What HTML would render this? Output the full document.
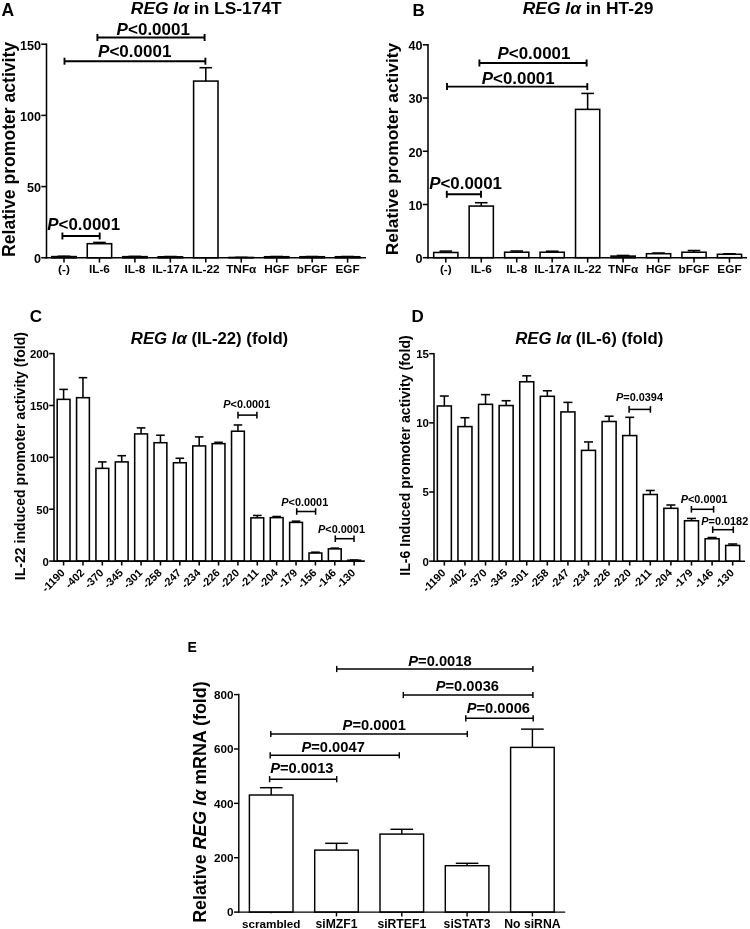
<!DOCTYPE html>
<html><head><meta charset="utf-8"><title>Figure</title>
<style>
html,body{margin:0;padding:0;background:#fff;}
body{width:750px;height:929px;overflow:hidden;}
svg{display:block;will-change:transform;}
svg text{font-family:"Liberation Sans",sans-serif;font-weight:bold;fill:#000;}
svg line,svg rect{stroke:#000;}
</style></head><body>
<svg width="750" height="929" viewBox="0 0 750 929">
<rect x="0" y="0" width="750" height="929" fill="#fff" stroke="none" style="stroke:none"/>
<line x1="64.00" y1="256.23" x2="64.00" y2="256.59" stroke-width="1.55"/>
<line x1="57.70" y1="256.23" x2="70.30" y2="256.23" stroke-width="1.55"/>
<rect x="51.80" y="256.59" width="24.40" height="1.21" fill="#fff" stroke-width="1.55"/>
<line x1="99.45" y1="242.42" x2="99.45" y2="243.70" stroke-width="1.55"/>
<line x1="93.15" y1="242.42" x2="105.75" y2="242.42" stroke-width="1.55"/>
<rect x="87.25" y="243.70" width="24.40" height="14.10" fill="#fff" stroke-width="1.55"/>
<line x1="134.90" y1="256.38" x2="134.90" y2="256.66" stroke-width="1.55"/>
<line x1="128.60" y1="256.38" x2="141.20" y2="256.38" stroke-width="1.55"/>
<rect x="122.70" y="256.66" width="24.40" height="1.14" fill="#fff" stroke-width="1.55"/>
<line x1="170.35" y1="256.52" x2="170.35" y2="256.80" stroke-width="1.55"/>
<line x1="164.05" y1="256.52" x2="176.65" y2="256.52" stroke-width="1.55"/>
<rect x="158.15" y="256.80" width="24.40" height="1.00" fill="#fff" stroke-width="1.55"/>
<line x1="205.80" y1="67.70" x2="205.80" y2="81.08" stroke-width="1.55"/>
<line x1="199.50" y1="67.70" x2="212.10" y2="67.70" stroke-width="1.55"/>
<rect x="193.60" y="81.08" width="24.40" height="176.72" fill="#fff" stroke-width="1.55"/>
<line x1="241.25" y1="257.37" x2="241.25" y2="257.44" stroke-width="1.55"/>
<line x1="234.95" y1="257.37" x2="247.55" y2="257.37" stroke-width="1.55"/>
<rect x="229.05" y="257.44" width="24.40" height="0.36" fill="#fff" stroke-width="1.55"/>
<line x1="276.70" y1="256.52" x2="276.70" y2="256.73" stroke-width="1.55"/>
<line x1="270.40" y1="256.52" x2="283.00" y2="256.52" stroke-width="1.55"/>
<rect x="264.50" y="256.73" width="24.40" height="1.07" fill="#fff" stroke-width="1.55"/>
<line x1="312.15" y1="256.52" x2="312.15" y2="256.73" stroke-width="1.55"/>
<line x1="305.85" y1="256.52" x2="318.45" y2="256.52" stroke-width="1.55"/>
<rect x="299.95" y="256.73" width="24.40" height="1.07" fill="#fff" stroke-width="1.55"/>
<line x1="347.60" y1="256.52" x2="347.60" y2="256.73" stroke-width="1.55"/>
<line x1="341.30" y1="256.52" x2="353.90" y2="256.52" stroke-width="1.55"/>
<rect x="335.40" y="256.73" width="24.40" height="1.07" fill="#fff" stroke-width="1.55"/>
<line x1="46.50" y1="43.52" x2="46.50" y2="258.57" stroke-width="1.55"/>
<line x1="45.73" y1="257.80" x2="366.00" y2="257.80" stroke-width="1.55"/>
<line x1="41.30" y1="257.80" x2="46.50" y2="257.80" stroke-width="1.55"/>
<text x="41.00" y="263.14" text-anchor="end" style="font-size:12.6px;">0</text>
<line x1="41.30" y1="186.60" x2="46.50" y2="186.60" stroke-width="1.55"/>
<text x="41.00" y="191.94" text-anchor="end" style="font-size:12.6px;">50</text>
<line x1="41.30" y1="115.40" x2="46.50" y2="115.40" stroke-width="1.55"/>
<text x="41.00" y="120.74" text-anchor="end" style="font-size:12.6px;">100</text>
<line x1="41.30" y1="44.20" x2="46.50" y2="44.20" stroke-width="1.55"/>
<text x="41.00" y="49.54" text-anchor="end" style="font-size:12.6px;">150</text>
<line x1="64.00" y1="257.80" x2="64.00" y2="262.60" stroke-width="1.55"/>
<text x="64.00" y="272.90" text-anchor="middle" style="font-size:11.8px;">(-)</text>
<line x1="99.45" y1="257.80" x2="99.45" y2="262.60" stroke-width="1.55"/>
<text x="99.45" y="272.90" text-anchor="middle" style="font-size:11.8px;">IL-6</text>
<line x1="134.90" y1="257.80" x2="134.90" y2="262.60" stroke-width="1.55"/>
<text x="134.90" y="272.90" text-anchor="middle" style="font-size:11.8px;">IL-8</text>
<line x1="170.35" y1="257.80" x2="170.35" y2="262.60" stroke-width="1.55"/>
<text x="170.35" y="272.90" text-anchor="middle" style="font-size:11.8px;">IL-17A</text>
<line x1="205.80" y1="257.80" x2="205.80" y2="262.60" stroke-width="1.55"/>
<text x="205.80" y="272.90" text-anchor="middle" style="font-size:11.8px;">IL-22</text>
<line x1="241.25" y1="257.80" x2="241.25" y2="262.60" stroke-width="1.55"/>
<text x="241.25" y="272.90" text-anchor="middle" style="font-size:11.8px;">TNFα</text>
<line x1="276.70" y1="257.80" x2="276.70" y2="262.60" stroke-width="1.55"/>
<text x="276.70" y="272.90" text-anchor="middle" style="font-size:11.8px;">HGF</text>
<line x1="312.15" y1="257.80" x2="312.15" y2="262.60" stroke-width="1.55"/>
<text x="312.15" y="272.90" text-anchor="middle" style="font-size:11.8px;">bFGF</text>
<line x1="347.60" y1="257.80" x2="347.60" y2="262.60" stroke-width="1.55"/>
<text x="347.60" y="272.90" text-anchor="middle" style="font-size:11.8px;">EGF</text>
<text x="1.50" y="15.70" text-anchor="start" style="font-size:17.5px;">A</text>
<text x="206.30" y="14.00" text-anchor="middle" style="font-size:17.4px;"><tspan style="font-style:italic">REG Iα</tspan> in LS-174T</text>
<text x="14.90" y="149.40" text-anchor="middle" style="font-size:17.6px;" transform="rotate(-90 14.90 149.40)">Relative promoter activity</text>
<line x1="97.40" y1="37.50" x2="204.60" y2="37.50" stroke-width="1.9"/>
<line x1="97.40" y1="34.00" x2="97.40" y2="41.00" stroke-width="1.9"/>
<line x1="204.60" y1="34.00" x2="204.60" y2="41.00" stroke-width="1.9"/>
<text x="116.60" y="35.00" text-anchor="start" style="font-size:17.05px;"><tspan style="font-style:italic">P</tspan>&lt;0.0001</text>
<line x1="64.50" y1="61.20" x2="205.40" y2="61.20" stroke-width="1.9"/>
<line x1="64.50" y1="57.70" x2="64.50" y2="64.70" stroke-width="1.9"/>
<line x1="205.40" y1="57.70" x2="205.40" y2="64.70" stroke-width="1.9"/>
<text x="98.00" y="57.00" text-anchor="start" style="font-size:17.05px;"><tspan style="font-style:italic">P</tspan>&lt;0.0001</text>
<line x1="62.40" y1="236.00" x2="99.70" y2="236.00" stroke-width="1.9"/>
<line x1="62.40" y1="232.50" x2="62.40" y2="239.50" stroke-width="1.9"/>
<line x1="99.70" y1="232.50" x2="99.70" y2="239.50" stroke-width="1.9"/>
<text x="47.30" y="230.30" text-anchor="start" style="font-size:16.9px;"><tspan style="font-style:italic">P</tspan>&lt;0.0001</text>
<line x1="445.80" y1="251.10" x2="445.80" y2="252.48" stroke-width="1.55"/>
<line x1="439.50" y1="251.10" x2="452.10" y2="251.10" stroke-width="1.55"/>
<rect x="433.70" y="252.48" width="24.20" height="5.22" fill="#fff" stroke-width="1.55"/>
<line x1="481.26" y1="202.72" x2="481.26" y2="206.08" stroke-width="1.55"/>
<line x1="474.96" y1="202.72" x2="487.56" y2="202.72" stroke-width="1.55"/>
<rect x="469.16" y="206.08" width="24.20" height="51.62" fill="#fff" stroke-width="1.55"/>
<line x1="516.72" y1="250.99" x2="516.72" y2="252.22" stroke-width="1.55"/>
<line x1="510.42" y1="250.99" x2="523.02" y2="250.99" stroke-width="1.55"/>
<rect x="504.62" y="252.22" width="24.20" height="5.48" fill="#fff" stroke-width="1.55"/>
<line x1="552.18" y1="251.21" x2="552.18" y2="252.22" stroke-width="1.55"/>
<line x1="545.88" y1="251.21" x2="558.48" y2="251.21" stroke-width="1.55"/>
<rect x="540.08" y="252.22" width="24.20" height="5.48" fill="#fff" stroke-width="1.55"/>
<line x1="587.64" y1="93.41" x2="587.64" y2="109.38" stroke-width="1.55"/>
<line x1="581.34" y1="93.41" x2="593.94" y2="93.41" stroke-width="1.55"/>
<rect x="575.54" y="109.38" width="24.20" height="148.32" fill="#fff" stroke-width="1.55"/>
<line x1="623.10" y1="255.46" x2="623.10" y2="256.10" stroke-width="1.55"/>
<line x1="616.80" y1="255.46" x2="629.40" y2="255.46" stroke-width="1.55"/>
<rect x="611.00" y="256.10" width="24.20" height="1.60" fill="#fff" stroke-width="1.55"/>
<line x1="658.56" y1="253.02" x2="658.56" y2="253.71" stroke-width="1.55"/>
<line x1="652.26" y1="253.02" x2="664.86" y2="253.02" stroke-width="1.55"/>
<rect x="646.46" y="253.71" width="24.20" height="3.99" fill="#fff" stroke-width="1.55"/>
<line x1="694.02" y1="250.52" x2="694.02" y2="252.22" stroke-width="1.55"/>
<line x1="687.72" y1="250.52" x2="700.32" y2="250.52" stroke-width="1.55"/>
<rect x="681.92" y="252.22" width="24.20" height="5.48" fill="#fff" stroke-width="1.55"/>
<line x1="729.48" y1="253.76" x2="729.48" y2="254.29" stroke-width="1.55"/>
<line x1="723.18" y1="253.76" x2="735.78" y2="253.76" stroke-width="1.55"/>
<rect x="717.38" y="254.29" width="24.20" height="3.41" fill="#fff" stroke-width="1.55"/>
<line x1="428.00" y1="43.93" x2="428.00" y2="258.47" stroke-width="1.55"/>
<line x1="427.23" y1="257.70" x2="747.00" y2="257.70" stroke-width="1.55"/>
<line x1="422.80" y1="257.70" x2="428.00" y2="257.70" stroke-width="1.55"/>
<text x="422.50" y="263.04" text-anchor="end" style="font-size:12.6px;">0</text>
<line x1="422.80" y1="204.48" x2="428.00" y2="204.48" stroke-width="1.55"/>
<text x="422.50" y="209.82" text-anchor="end" style="font-size:12.6px;">10</text>
<line x1="422.80" y1="151.26" x2="428.00" y2="151.26" stroke-width="1.55"/>
<text x="422.50" y="156.60" text-anchor="end" style="font-size:12.6px;">20</text>
<line x1="422.80" y1="98.04" x2="428.00" y2="98.04" stroke-width="1.55"/>
<text x="422.50" y="103.38" text-anchor="end" style="font-size:12.6px;">30</text>
<line x1="422.80" y1="44.82" x2="428.00" y2="44.82" stroke-width="1.55"/>
<text x="422.50" y="50.16" text-anchor="end" style="font-size:12.6px;">40</text>
<line x1="445.80" y1="257.70" x2="445.80" y2="262.50" stroke-width="1.55"/>
<text x="445.80" y="272.90" text-anchor="middle" style="font-size:11.8px;">(-)</text>
<line x1="481.26" y1="257.70" x2="481.26" y2="262.50" stroke-width="1.55"/>
<text x="481.26" y="272.90" text-anchor="middle" style="font-size:11.8px;">IL-6</text>
<line x1="516.72" y1="257.70" x2="516.72" y2="262.50" stroke-width="1.55"/>
<text x="516.72" y="272.90" text-anchor="middle" style="font-size:11.8px;">IL-8</text>
<line x1="552.18" y1="257.70" x2="552.18" y2="262.50" stroke-width="1.55"/>
<text x="552.18" y="272.90" text-anchor="middle" style="font-size:11.8px;">IL-17A</text>
<line x1="587.64" y1="257.70" x2="587.64" y2="262.50" stroke-width="1.55"/>
<text x="587.64" y="272.90" text-anchor="middle" style="font-size:11.8px;">IL-22</text>
<line x1="623.10" y1="257.70" x2="623.10" y2="262.50" stroke-width="1.55"/>
<text x="623.10" y="272.90" text-anchor="middle" style="font-size:11.8px;">TNFα</text>
<line x1="658.56" y1="257.70" x2="658.56" y2="262.50" stroke-width="1.55"/>
<text x="658.56" y="272.90" text-anchor="middle" style="font-size:11.8px;">HGF</text>
<line x1="694.02" y1="257.70" x2="694.02" y2="262.50" stroke-width="1.55"/>
<text x="694.02" y="272.90" text-anchor="middle" style="font-size:11.8px;">bFGF</text>
<line x1="729.48" y1="257.70" x2="729.48" y2="262.50" stroke-width="1.55"/>
<text x="729.48" y="272.90" text-anchor="middle" style="font-size:11.8px;">EGF</text>
<text x="412.60" y="15.60" text-anchor="start" style="font-size:17px;">B</text>
<text x="588.10" y="13.90" text-anchor="middle" style="font-size:17.4px;"><tspan style="font-style:italic">REG Iα</tspan> in HT-29</text>
<text x="397.60" y="149.00" text-anchor="middle" style="font-size:17.4px;" transform="rotate(-90 397.60 149.00)">Relative promoter activity</text>
<line x1="479.40" y1="63.00" x2="586.60" y2="63.00" stroke-width="1.9"/>
<line x1="479.40" y1="59.50" x2="479.40" y2="66.50" stroke-width="1.9"/>
<line x1="586.60" y1="59.50" x2="586.60" y2="66.50" stroke-width="1.9"/>
<text x="497.50" y="59.20" text-anchor="start" style="font-size:16.9px;"><tspan style="font-style:italic">P</tspan>&lt;0.0001</text>
<line x1="447.00" y1="86.60" x2="587.30" y2="86.60" stroke-width="1.9"/>
<line x1="447.00" y1="83.10" x2="447.00" y2="90.10" stroke-width="1.9"/>
<line x1="587.30" y1="83.10" x2="587.30" y2="90.10" stroke-width="1.9"/>
<text x="481.80" y="83.90" text-anchor="start" style="font-size:16.9px;"><tspan style="font-style:italic">P</tspan>&lt;0.0001</text>
<line x1="446.80" y1="194.30" x2="481.00" y2="194.30" stroke-width="1.9"/>
<line x1="446.80" y1="190.80" x2="446.80" y2="197.80" stroke-width="1.9"/>
<line x1="481.00" y1="190.80" x2="481.00" y2="197.80" stroke-width="1.9"/>
<text x="429.20" y="189.30" text-anchor="start" style="font-size:16.9px;"><tspan style="font-style:italic">P</tspan>&lt;0.0001</text>
<line x1="63.60" y1="389.39" x2="63.60" y2="399.35" stroke-width="1.55"/>
<line x1="59.30" y1="389.39" x2="67.90" y2="389.39" stroke-width="1.55"/>
<rect x="57.20" y="399.35" width="12.80" height="161.75" fill="#fff" stroke-width="1.55"/>
<line x1="82.97" y1="377.67" x2="82.97" y2="397.69" stroke-width="1.55"/>
<line x1="78.67" y1="377.67" x2="87.27" y2="377.67" stroke-width="1.55"/>
<rect x="76.57" y="397.69" width="12.80" height="163.41" fill="#fff" stroke-width="1.55"/>
<line x1="102.34" y1="461.92" x2="102.34" y2="468.35" stroke-width="1.55"/>
<line x1="98.04" y1="461.92" x2="106.64" y2="461.92" stroke-width="1.55"/>
<rect x="95.94" y="468.35" width="12.80" height="92.75" fill="#fff" stroke-width="1.55"/>
<line x1="121.71" y1="455.69" x2="121.71" y2="461.92" stroke-width="1.55"/>
<line x1="117.41" y1="455.69" x2="126.01" y2="455.69" stroke-width="1.55"/>
<rect x="115.31" y="461.92" width="12.80" height="99.19" fill="#fff" stroke-width="1.55"/>
<line x1="141.08" y1="427.88" x2="141.08" y2="433.90" stroke-width="1.55"/>
<line x1="136.78" y1="427.88" x2="145.38" y2="427.88" stroke-width="1.55"/>
<rect x="134.68" y="433.90" width="12.80" height="127.20" fill="#fff" stroke-width="1.55"/>
<line x1="160.45" y1="435.25" x2="160.45" y2="442.72" stroke-width="1.55"/>
<line x1="156.15" y1="435.25" x2="164.75" y2="435.25" stroke-width="1.55"/>
<rect x="154.05" y="442.72" width="12.80" height="118.38" fill="#fff" stroke-width="1.55"/>
<line x1="179.82" y1="458.28" x2="179.82" y2="462.75" stroke-width="1.55"/>
<line x1="175.52" y1="458.28" x2="184.12" y2="458.28" stroke-width="1.55"/>
<rect x="173.42" y="462.75" width="12.80" height="98.36" fill="#fff" stroke-width="1.55"/>
<line x1="199.19" y1="436.91" x2="199.19" y2="445.94" stroke-width="1.55"/>
<line x1="194.89" y1="436.91" x2="203.49" y2="436.91" stroke-width="1.55"/>
<rect x="192.79" y="445.94" width="12.80" height="115.16" fill="#fff" stroke-width="1.55"/>
<line x1="218.56" y1="442.31" x2="218.56" y2="443.66" stroke-width="1.55"/>
<line x1="214.26" y1="442.31" x2="222.86" y2="442.31" stroke-width="1.55"/>
<rect x="212.16" y="443.66" width="12.80" height="117.44" fill="#fff" stroke-width="1.55"/>
<line x1="237.93" y1="424.98" x2="237.93" y2="431.21" stroke-width="1.55"/>
<line x1="233.63" y1="424.98" x2="242.23" y2="424.98" stroke-width="1.55"/>
<rect x="231.53" y="431.21" width="12.80" height="129.89" fill="#fff" stroke-width="1.55"/>
<line x1="257.30" y1="515.45" x2="257.30" y2="517.84" stroke-width="1.55"/>
<line x1="253.00" y1="515.45" x2="261.60" y2="515.45" stroke-width="1.55"/>
<rect x="250.90" y="517.84" width="12.80" height="43.26" fill="#fff" stroke-width="1.55"/>
<line x1="276.67" y1="516.49" x2="276.67" y2="517.63" stroke-width="1.55"/>
<line x1="272.37" y1="516.49" x2="280.97" y2="516.49" stroke-width="1.55"/>
<rect x="270.27" y="517.63" width="12.80" height="43.47" fill="#fff" stroke-width="1.55"/>
<line x1="296.04" y1="521.16" x2="296.04" y2="522.40" stroke-width="1.55"/>
<line x1="291.74" y1="521.16" x2="300.34" y2="521.16" stroke-width="1.55"/>
<rect x="289.64" y="522.40" width="12.80" height="38.70" fill="#fff" stroke-width="1.55"/>
<line x1="315.41" y1="552.18" x2="315.41" y2="553.01" stroke-width="1.55"/>
<line x1="311.11" y1="552.18" x2="319.71" y2="552.18" stroke-width="1.55"/>
<rect x="309.01" y="553.01" width="12.80" height="8.09" fill="#fff" stroke-width="1.55"/>
<line x1="334.78" y1="548.13" x2="334.78" y2="548.86" stroke-width="1.55"/>
<line x1="330.48" y1="548.13" x2="339.08" y2="548.13" stroke-width="1.55"/>
<rect x="328.38" y="548.86" width="12.80" height="12.24" fill="#fff" stroke-width="1.55"/>
<line x1="354.15" y1="560.06" x2="354.15" y2="560.27" stroke-width="1.55"/>
<line x1="349.85" y1="560.06" x2="358.45" y2="560.06" stroke-width="1.55"/>
<rect x="347.75" y="560.27" width="12.80" height="0.83" fill="#fff" stroke-width="1.55"/>
<line x1="54.00" y1="352.93" x2="54.00" y2="561.88" stroke-width="1.55"/>
<line x1="53.23" y1="561.10" x2="364.80" y2="561.10" stroke-width="1.55"/>
<line x1="49.20" y1="561.10" x2="54.00" y2="561.10" stroke-width="1.55"/>
<text x="48.90" y="565.50" text-anchor="end" style="font-size:11.4px;">0</text>
<line x1="49.20" y1="509.23" x2="54.00" y2="509.23" stroke-width="1.55"/>
<text x="48.90" y="513.63" text-anchor="end" style="font-size:11.4px;">50</text>
<line x1="49.20" y1="457.35" x2="54.00" y2="457.35" stroke-width="1.55"/>
<text x="48.90" y="461.75" text-anchor="end" style="font-size:11.4px;">100</text>
<line x1="49.20" y1="405.48" x2="54.00" y2="405.48" stroke-width="1.55"/>
<text x="48.90" y="409.88" text-anchor="end" style="font-size:11.4px;">150</text>
<line x1="49.20" y1="353.60" x2="54.00" y2="353.60" stroke-width="1.55"/>
<text x="48.90" y="358.00" text-anchor="end" style="font-size:11.4px;">200</text>
<line x1="63.60" y1="561.10" x2="63.60" y2="565.50" stroke-width="1.55"/>
<text x="65.60" y="573.50" text-anchor="end" style="font-size:10.9px;" transform="rotate(-45 65.60 573.50)">-1190</text>
<line x1="82.97" y1="561.10" x2="82.97" y2="565.50" stroke-width="1.55"/>
<text x="84.97" y="573.50" text-anchor="end" style="font-size:10.9px;" transform="rotate(-45 84.97 573.50)">-402</text>
<line x1="102.34" y1="561.10" x2="102.34" y2="565.50" stroke-width="1.55"/>
<text x="104.34" y="573.50" text-anchor="end" style="font-size:10.9px;" transform="rotate(-45 104.34 573.50)">-370</text>
<line x1="121.71" y1="561.10" x2="121.71" y2="565.50" stroke-width="1.55"/>
<text x="123.71" y="573.50" text-anchor="end" style="font-size:10.9px;" transform="rotate(-45 123.71 573.50)">-345</text>
<line x1="141.08" y1="561.10" x2="141.08" y2="565.50" stroke-width="1.55"/>
<text x="143.08" y="573.50" text-anchor="end" style="font-size:10.9px;" transform="rotate(-45 143.08 573.50)">-301</text>
<line x1="160.45" y1="561.10" x2="160.45" y2="565.50" stroke-width="1.55"/>
<text x="162.45" y="573.50" text-anchor="end" style="font-size:10.9px;" transform="rotate(-45 162.45 573.50)">-258</text>
<line x1="179.82" y1="561.10" x2="179.82" y2="565.50" stroke-width="1.55"/>
<text x="181.82" y="573.50" text-anchor="end" style="font-size:10.9px;" transform="rotate(-45 181.82 573.50)">-247</text>
<line x1="199.19" y1="561.10" x2="199.19" y2="565.50" stroke-width="1.55"/>
<text x="201.19" y="573.50" text-anchor="end" style="font-size:10.9px;" transform="rotate(-45 201.19 573.50)">-234</text>
<line x1="218.56" y1="561.10" x2="218.56" y2="565.50" stroke-width="1.55"/>
<text x="220.56" y="573.50" text-anchor="end" style="font-size:10.9px;" transform="rotate(-45 220.56 573.50)">-226</text>
<line x1="237.93" y1="561.10" x2="237.93" y2="565.50" stroke-width="1.55"/>
<text x="239.93" y="573.50" text-anchor="end" style="font-size:10.9px;" transform="rotate(-45 239.93 573.50)">-220</text>
<line x1="257.30" y1="561.10" x2="257.30" y2="565.50" stroke-width="1.55"/>
<text x="259.30" y="573.50" text-anchor="end" style="font-size:10.9px;" transform="rotate(-45 259.30 573.50)">-211</text>
<line x1="276.67" y1="561.10" x2="276.67" y2="565.50" stroke-width="1.55"/>
<text x="278.67" y="573.50" text-anchor="end" style="font-size:10.9px;" transform="rotate(-45 278.67 573.50)">-204</text>
<line x1="296.04" y1="561.10" x2="296.04" y2="565.50" stroke-width="1.55"/>
<text x="298.04" y="573.50" text-anchor="end" style="font-size:10.9px;" transform="rotate(-45 298.04 573.50)">-179</text>
<line x1="315.41" y1="561.10" x2="315.41" y2="565.50" stroke-width="1.55"/>
<text x="317.41" y="573.50" text-anchor="end" style="font-size:10.9px;" transform="rotate(-45 317.41 573.50)">-156</text>
<line x1="334.78" y1="561.10" x2="334.78" y2="565.50" stroke-width="1.55"/>
<text x="336.78" y="573.50" text-anchor="end" style="font-size:10.9px;" transform="rotate(-45 336.78 573.50)">-146</text>
<line x1="354.15" y1="561.10" x2="354.15" y2="565.50" stroke-width="1.55"/>
<text x="356.15" y="573.50" text-anchor="end" style="font-size:10.9px;" transform="rotate(-45 356.15 573.50)">-130</text>
<text x="29.80" y="321.80" text-anchor="start" style="font-size:17px;">C</text>
<text x="209.50" y="343.50" text-anchor="middle" style="font-size:16.75px;"><tspan style="font-style:italic">REG Iα</tspan> (IL-22) (fold)</text>
<text x="25.30" y="456.10" text-anchor="middle" style="font-size:14.1px;" transform="rotate(-90 25.30 456.10)">IL-22 induced promoter activity (fold)</text>
<line x1="238.00" y1="415.10" x2="256.90" y2="415.10" stroke-width="1.55"/>
<line x1="238.00" y1="411.80" x2="238.00" y2="418.40" stroke-width="1.55"/>
<line x1="256.90" y1="411.80" x2="256.90" y2="418.40" stroke-width="1.55"/>
<text x="223.30" y="407.60" text-anchor="start" style="font-size:10.9px;"><tspan style="font-style:italic">P</tspan>&lt;0.0001</text>
<line x1="296.70" y1="511.50" x2="315.60" y2="511.50" stroke-width="1.55"/>
<line x1="296.70" y1="508.20" x2="296.70" y2="514.80" stroke-width="1.55"/>
<line x1="315.60" y1="508.20" x2="315.60" y2="514.80" stroke-width="1.55"/>
<text x="281.30" y="506.10" text-anchor="start" style="font-size:10.9px;"><tspan style="font-style:italic">P</tspan>&lt;0.0001</text>
<line x1="335.30" y1="538.70" x2="354.00" y2="538.70" stroke-width="1.55"/>
<line x1="335.30" y1="535.40" x2="335.30" y2="542.00" stroke-width="1.55"/>
<line x1="354.00" y1="535.40" x2="354.00" y2="542.00" stroke-width="1.55"/>
<text x="318.00" y="532.50" text-anchor="start" style="font-size:10.9px;"><tspan style="font-style:italic">P</tspan>&lt;0.0001</text>
<line x1="444.35" y1="396.02" x2="444.35" y2="405.98" stroke-width="1.55"/>
<line x1="439.85" y1="396.02" x2="448.85" y2="396.02" stroke-width="1.55"/>
<rect x="437.35" y="405.98" width="14.00" height="155.17" fill="#fff" stroke-width="1.55"/>
<line x1="464.95" y1="417.73" x2="464.95" y2="426.58" stroke-width="1.55"/>
<line x1="460.45" y1="417.73" x2="469.45" y2="417.73" stroke-width="1.55"/>
<rect x="457.95" y="426.58" width="14.00" height="134.57" fill="#fff" stroke-width="1.55"/>
<line x1="485.54" y1="394.64" x2="485.54" y2="404.32" stroke-width="1.55"/>
<line x1="481.04" y1="394.64" x2="490.04" y2="394.64" stroke-width="1.55"/>
<rect x="478.54" y="404.32" width="14.00" height="156.83" fill="#fff" stroke-width="1.55"/>
<line x1="506.13" y1="400.72" x2="506.13" y2="405.56" stroke-width="1.55"/>
<line x1="501.63" y1="400.72" x2="510.63" y2="400.72" stroke-width="1.55"/>
<rect x="499.13" y="405.56" width="14.00" height="155.59" fill="#fff" stroke-width="1.55"/>
<line x1="526.73" y1="375.83" x2="526.73" y2="381.77" stroke-width="1.55"/>
<line x1="522.23" y1="375.83" x2="531.23" y2="375.83" stroke-width="1.55"/>
<rect x="519.73" y="381.77" width="14.00" height="179.38" fill="#fff" stroke-width="1.55"/>
<line x1="547.33" y1="390.76" x2="547.33" y2="396.30" stroke-width="1.55"/>
<line x1="542.83" y1="390.76" x2="551.83" y2="390.76" stroke-width="1.55"/>
<rect x="540.33" y="396.30" width="14.00" height="164.85" fill="#fff" stroke-width="1.55"/>
<line x1="567.92" y1="402.38" x2="567.92" y2="411.92" stroke-width="1.55"/>
<line x1="563.42" y1="402.38" x2="572.42" y2="402.38" stroke-width="1.55"/>
<rect x="560.92" y="411.92" width="14.00" height="149.23" fill="#fff" stroke-width="1.55"/>
<line x1="588.51" y1="441.94" x2="588.51" y2="450.37" stroke-width="1.55"/>
<line x1="584.01" y1="441.94" x2="593.01" y2="441.94" stroke-width="1.55"/>
<rect x="581.51" y="450.37" width="14.00" height="110.78" fill="#fff" stroke-width="1.55"/>
<line x1="609.11" y1="416.21" x2="609.11" y2="421.47" stroke-width="1.55"/>
<line x1="604.61" y1="416.21" x2="613.61" y2="416.21" stroke-width="1.55"/>
<rect x="602.11" y="421.47" width="14.00" height="139.68" fill="#fff" stroke-width="1.55"/>
<line x1="629.71" y1="417.32" x2="629.71" y2="435.57" stroke-width="1.55"/>
<line x1="625.21" y1="417.32" x2="634.21" y2="417.32" stroke-width="1.55"/>
<rect x="622.71" y="435.57" width="14.00" height="125.58" fill="#fff" stroke-width="1.55"/>
<line x1="650.30" y1="490.48" x2="650.30" y2="494.49" stroke-width="1.55"/>
<line x1="645.80" y1="490.48" x2="654.80" y2="490.48" stroke-width="1.55"/>
<rect x="643.30" y="494.49" width="14.00" height="66.66" fill="#fff" stroke-width="1.55"/>
<line x1="670.89" y1="505.00" x2="670.89" y2="508.32" stroke-width="1.55"/>
<line x1="666.39" y1="505.00" x2="675.39" y2="505.00" stroke-width="1.55"/>
<rect x="663.89" y="508.32" width="14.00" height="52.83" fill="#fff" stroke-width="1.55"/>
<line x1="691.49" y1="518.42" x2="691.49" y2="520.77" stroke-width="1.55"/>
<line x1="686.99" y1="518.42" x2="695.99" y2="518.42" stroke-width="1.55"/>
<rect x="684.49" y="520.77" width="14.00" height="40.38" fill="#fff" stroke-width="1.55"/>
<line x1="712.09" y1="537.50" x2="712.09" y2="538.75" stroke-width="1.55"/>
<line x1="707.59" y1="537.50" x2="716.59" y2="537.50" stroke-width="1.55"/>
<rect x="705.09" y="538.75" width="14.00" height="22.40" fill="#fff" stroke-width="1.55"/>
<line x1="732.68" y1="544.00" x2="732.68" y2="545.45" stroke-width="1.55"/>
<line x1="728.18" y1="544.00" x2="737.18" y2="544.00" stroke-width="1.55"/>
<rect x="725.68" y="545.45" width="14.00" height="15.70" fill="#fff" stroke-width="1.55"/>
<line x1="434.00" y1="353.03" x2="434.00" y2="561.92" stroke-width="1.55"/>
<line x1="433.23" y1="561.15" x2="745.00" y2="561.15" stroke-width="1.55"/>
<line x1="429.20" y1="561.15" x2="434.00" y2="561.15" stroke-width="1.55"/>
<text x="428.90" y="565.55" text-anchor="end" style="font-size:11.4px;">0</text>
<line x1="429.20" y1="492.00" x2="434.00" y2="492.00" stroke-width="1.55"/>
<text x="428.90" y="496.40" text-anchor="end" style="font-size:11.4px;">5</text>
<line x1="429.20" y1="422.85" x2="434.00" y2="422.85" stroke-width="1.55"/>
<text x="428.90" y="427.25" text-anchor="end" style="font-size:11.4px;">10</text>
<line x1="429.20" y1="353.70" x2="434.00" y2="353.70" stroke-width="1.55"/>
<text x="428.90" y="358.10" text-anchor="end" style="font-size:11.4px;">15</text>
<line x1="444.35" y1="561.15" x2="444.35" y2="565.55" stroke-width="1.55"/>
<text x="446.35" y="573.55" text-anchor="end" style="font-size:10.9px;" transform="rotate(-45 446.35 573.55)">-1190</text>
<line x1="464.95" y1="561.15" x2="464.95" y2="565.55" stroke-width="1.55"/>
<text x="466.95" y="573.55" text-anchor="end" style="font-size:10.9px;" transform="rotate(-45 466.95 573.55)">-402</text>
<line x1="485.54" y1="561.15" x2="485.54" y2="565.55" stroke-width="1.55"/>
<text x="487.54" y="573.55" text-anchor="end" style="font-size:10.9px;" transform="rotate(-45 487.54 573.55)">-370</text>
<line x1="506.13" y1="561.15" x2="506.13" y2="565.55" stroke-width="1.55"/>
<text x="508.13" y="573.55" text-anchor="end" style="font-size:10.9px;" transform="rotate(-45 508.13 573.55)">-345</text>
<line x1="526.73" y1="561.15" x2="526.73" y2="565.55" stroke-width="1.55"/>
<text x="528.73" y="573.55" text-anchor="end" style="font-size:10.9px;" transform="rotate(-45 528.73 573.55)">-301</text>
<line x1="547.33" y1="561.15" x2="547.33" y2="565.55" stroke-width="1.55"/>
<text x="549.33" y="573.55" text-anchor="end" style="font-size:10.9px;" transform="rotate(-45 549.33 573.55)">-258</text>
<line x1="567.92" y1="561.15" x2="567.92" y2="565.55" stroke-width="1.55"/>
<text x="569.92" y="573.55" text-anchor="end" style="font-size:10.9px;" transform="rotate(-45 569.92 573.55)">-247</text>
<line x1="588.51" y1="561.15" x2="588.51" y2="565.55" stroke-width="1.55"/>
<text x="590.51" y="573.55" text-anchor="end" style="font-size:10.9px;" transform="rotate(-45 590.51 573.55)">-234</text>
<line x1="609.11" y1="561.15" x2="609.11" y2="565.55" stroke-width="1.55"/>
<text x="611.11" y="573.55" text-anchor="end" style="font-size:10.9px;" transform="rotate(-45 611.11 573.55)">-226</text>
<line x1="629.71" y1="561.15" x2="629.71" y2="565.55" stroke-width="1.55"/>
<text x="631.71" y="573.55" text-anchor="end" style="font-size:10.9px;" transform="rotate(-45 631.71 573.55)">-220</text>
<line x1="650.30" y1="561.15" x2="650.30" y2="565.55" stroke-width="1.55"/>
<text x="652.30" y="573.55" text-anchor="end" style="font-size:10.9px;" transform="rotate(-45 652.30 573.55)">-211</text>
<line x1="670.89" y1="561.15" x2="670.89" y2="565.55" stroke-width="1.55"/>
<text x="672.89" y="573.55" text-anchor="end" style="font-size:10.9px;" transform="rotate(-45 672.89 573.55)">-204</text>
<line x1="691.49" y1="561.15" x2="691.49" y2="565.55" stroke-width="1.55"/>
<text x="693.49" y="573.55" text-anchor="end" style="font-size:10.9px;" transform="rotate(-45 693.49 573.55)">-179</text>
<line x1="712.09" y1="561.15" x2="712.09" y2="565.55" stroke-width="1.55"/>
<text x="714.09" y="573.55" text-anchor="end" style="font-size:10.9px;" transform="rotate(-45 714.09 573.55)">-146</text>
<line x1="732.68" y1="561.15" x2="732.68" y2="565.55" stroke-width="1.55"/>
<text x="734.68" y="573.55" text-anchor="end" style="font-size:10.9px;" transform="rotate(-45 734.68 573.55)">-130</text>
<text x="411.50" y="321.80" text-anchor="start" style="font-size:17px;">D</text>
<text x="589.20" y="343.50" text-anchor="middle" style="font-size:16.75px;"><tspan style="font-style:italic">REG Iα</tspan> (IL-6) (fold)</text>
<text x="410.00" y="455.50" text-anchor="middle" style="font-size:14.1px;" transform="rotate(-90 410.00 455.50)">IL-6 Induced promoter activity (fold)</text>
<line x1="629.10" y1="409.40" x2="650.40" y2="409.40" stroke-width="1.55"/>
<line x1="629.10" y1="406.10" x2="629.10" y2="412.70" stroke-width="1.55"/>
<line x1="650.40" y1="406.10" x2="650.40" y2="412.70" stroke-width="1.55"/>
<text x="616.00" y="401.30" text-anchor="start" style="font-size:10.9px;"><tspan style="font-style:italic">P</tspan>=0.0394</text>
<line x1="691.40" y1="509.30" x2="713.60" y2="509.30" stroke-width="1.55"/>
<line x1="691.40" y1="506.00" x2="691.40" y2="512.60" stroke-width="1.55"/>
<line x1="713.60" y1="506.00" x2="713.60" y2="512.60" stroke-width="1.55"/>
<text x="680.70" y="502.70" text-anchor="start" style="font-size:10.9px;"><tspan style="font-style:italic">P</tspan>&lt;0.0001</text>
<line x1="712.70" y1="529.70" x2="733.30" y2="529.70" stroke-width="1.55"/>
<line x1="712.70" y1="526.40" x2="712.70" y2="533.00" stroke-width="1.55"/>
<line x1="733.30" y1="526.40" x2="733.30" y2="533.00" stroke-width="1.55"/>
<text x="701.30" y="524.90" text-anchor="start" style="font-size:10.9px;"><tspan style="font-style:italic">P</tspan>=0.0182</text>
<line x1="271.20" y1="787.69" x2="271.20" y2="795.01" stroke-width="1.45"/>
<line x1="259.90" y1="787.69" x2="282.50" y2="787.69" stroke-width="1.45"/>
<rect x="249.40" y="795.01" width="43.60" height="117.09" fill="#fff" stroke-width="1.45"/>
<line x1="336.50" y1="843.32" x2="336.50" y2="850.11" stroke-width="1.45"/>
<line x1="325.20" y1="843.32" x2="347.80" y2="843.32" stroke-width="1.45"/>
<rect x="314.70" y="850.11" width="43.60" height="61.99" fill="#fff" stroke-width="1.45"/>
<line x1="401.80" y1="829.29" x2="401.80" y2="834.10" stroke-width="1.45"/>
<line x1="390.50" y1="829.29" x2="413.10" y2="829.29" stroke-width="1.45"/>
<rect x="380.00" y="834.10" width="43.60" height="78.00" fill="#fff" stroke-width="1.45"/>
<line x1="467.10" y1="863.30" x2="467.10" y2="865.69" stroke-width="1.45"/>
<line x1="455.80" y1="863.30" x2="478.40" y2="863.30" stroke-width="1.45"/>
<rect x="445.30" y="865.69" width="43.60" height="46.41" fill="#fff" stroke-width="1.45"/>
<line x1="532.40" y1="729.13" x2="532.40" y2="747.40" stroke-width="1.45"/>
<line x1="521.10" y1="729.13" x2="543.70" y2="729.13" stroke-width="1.45"/>
<rect x="510.60" y="747.40" width="43.60" height="164.70" fill="#fff" stroke-width="1.45"/>
<line x1="238.80" y1="693.77" x2="238.80" y2="912.83" stroke-width="1.45"/>
<line x1="238.08" y1="912.10" x2="565.20" y2="912.10" stroke-width="1.45"/>
<line x1="234.00" y1="912.10" x2="238.80" y2="912.10" stroke-width="1.45"/>
<text x="233.60" y="916.31" text-anchor="end" style="font-size:11.7px;">0</text>
<line x1="234.00" y1="857.73" x2="238.80" y2="857.73" stroke-width="1.45"/>
<text x="233.60" y="861.94" text-anchor="end" style="font-size:11.7px;">200</text>
<line x1="234.00" y1="803.35" x2="238.80" y2="803.35" stroke-width="1.45"/>
<text x="233.60" y="807.56" text-anchor="end" style="font-size:11.7px;">400</text>
<line x1="234.00" y1="748.98" x2="238.80" y2="748.98" stroke-width="1.45"/>
<text x="233.60" y="753.19" text-anchor="end" style="font-size:11.7px;">600</text>
<line x1="234.00" y1="694.60" x2="238.80" y2="694.60" stroke-width="1.45"/>
<text x="233.60" y="698.82" text-anchor="end" style="font-size:11.7px;">800</text>
<line x1="271.20" y1="912.10" x2="271.20" y2="913.30" stroke-width="1.45"/>
<text x="271.20" y="927.80" text-anchor="middle" style="font-size:11.7px;">scrambled</text>
<line x1="336.50" y1="912.10" x2="336.50" y2="916.40" stroke-width="1.45"/>
<text x="336.50" y="927.80" text-anchor="middle" style="font-size:12.2px;">siMZF1</text>
<line x1="401.80" y1="912.10" x2="401.80" y2="916.40" stroke-width="1.45"/>
<text x="401.80" y="927.80" text-anchor="middle" style="font-size:12.2px;">siRTEF1</text>
<line x1="467.10" y1="912.10" x2="467.10" y2="916.40" stroke-width="1.45"/>
<text x="467.10" y="927.80" text-anchor="middle" style="font-size:12.2px;">siSTAT3</text>
<line x1="532.40" y1="912.10" x2="532.40" y2="916.40" stroke-width="1.45"/>
<text x="532.40" y="927.80" text-anchor="middle" style="font-size:12.2px;">No siRNA</text>
<text x="187.40" y="651.70" text-anchor="start" style="font-size:14px;">E</text>
<text x="205.90" y="802.10" text-anchor="middle" style="font-size:17.85px;" transform="rotate(-90 205.90 802.10)">Relative <tspan style="font-style:italic">REG Iα</tspan> mRNA (fold)</text>
<line x1="336.70" y1="669.00" x2="532.90" y2="669.00" stroke-width="1.45"/>
<line x1="336.70" y1="665.90" x2="336.70" y2="672.10" stroke-width="1.45"/>
<line x1="532.90" y1="665.90" x2="532.90" y2="672.10" stroke-width="1.45"/>
<text x="408.30" y="665.60" text-anchor="start" style="font-size:14.7px;"><tspan style="font-style:italic">P</tspan>=0.0018</text>
<line x1="403.30" y1="695.00" x2="532.90" y2="695.00" stroke-width="1.45"/>
<line x1="403.30" y1="691.90" x2="403.30" y2="698.10" stroke-width="1.45"/>
<line x1="532.90" y1="691.90" x2="532.90" y2="698.10" stroke-width="1.45"/>
<text x="435.70" y="691.00" text-anchor="start" style="font-size:14.7px;"><tspan style="font-style:italic">P</tspan>=0.0036</text>
<line x1="465.80" y1="718.30" x2="533.20" y2="718.30" stroke-width="1.45"/>
<line x1="465.80" y1="715.20" x2="465.80" y2="721.40" stroke-width="1.45"/>
<line x1="533.20" y1="715.20" x2="533.20" y2="721.40" stroke-width="1.45"/>
<text x="466.70" y="713.40" text-anchor="start" style="font-size:14.7px;"><tspan style="font-style:italic">P</tspan>=0.0006</text>
<line x1="270.80" y1="734.00" x2="467.30" y2="734.00" stroke-width="1.45"/>
<line x1="270.80" y1="730.90" x2="270.80" y2="737.10" stroke-width="1.45"/>
<line x1="467.30" y1="730.90" x2="467.30" y2="737.10" stroke-width="1.45"/>
<text x="342.60" y="730.00" text-anchor="start" style="font-size:14.7px;"><tspan style="font-style:italic">P</tspan>=0.0001</text>
<line x1="270.20" y1="755.30" x2="399.30" y2="755.30" stroke-width="1.45"/>
<line x1="270.20" y1="752.20" x2="270.20" y2="758.40" stroke-width="1.45"/>
<line x1="399.30" y1="752.20" x2="399.30" y2="758.40" stroke-width="1.45"/>
<text x="301.50" y="751.50" text-anchor="start" style="font-size:14.7px;"><tspan style="font-style:italic">P</tspan>=0.0047</text>
<line x1="269.60" y1="779.20" x2="336.70" y2="779.20" stroke-width="1.45"/>
<line x1="269.60" y1="776.10" x2="269.60" y2="782.30" stroke-width="1.45"/>
<line x1="336.70" y1="776.10" x2="336.70" y2="782.30" stroke-width="1.45"/>
<text x="270.20" y="772.70" text-anchor="start" style="font-size:14.7px;"><tspan style="font-style:italic">P</tspan>=0.0013</text>
</svg>
</body></html>
